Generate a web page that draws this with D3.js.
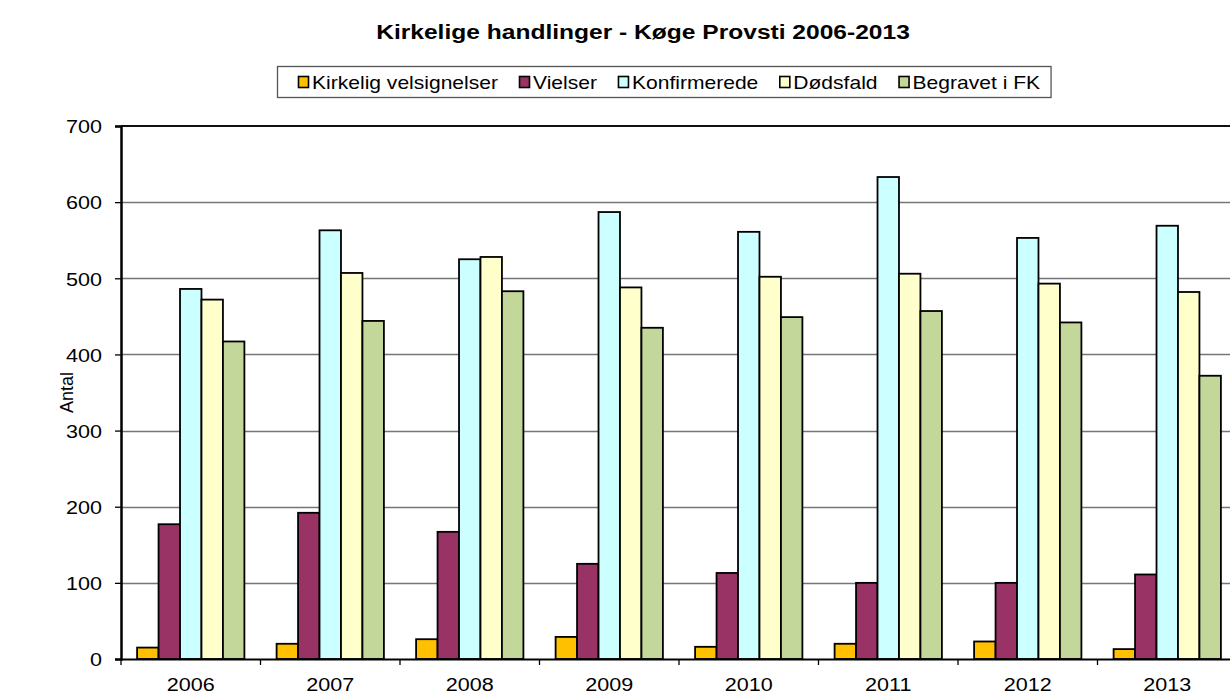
<!DOCTYPE html>
<html>
<head>
<meta charset="utf-8">
<script src="https://cdn.jsdelivr.net/npm/d3@7"></script>
<style>
  body { margin: 0; background: #fff; }
  svg { font-family: "Liberation Sans", Arial, sans-serif; }
</style>
</head>
<body>
<div id="chart"></div>
<script>
var years = ["2006", "2007", "2008", "2009", "2010", "2011", "2012", "2013"];
var seriesNames = ["Kirkelig velsignelser", "Vielser", "Konfirmerede", "Dødsfald", "Begravet i FK"];
var velsignelser = [15, 20, 26, 29, 16, 20, 23, 13];
var vielser = [177, 192, 167, 125, 113, 100, 100, 111];
var konfirmerede = [486, 563, 525, 587, 561, 633, 553, 569];
var doedsfald = [472, 507, 528, 488, 502, 506, 493, 482];
var begravet = [417, 444, 483, 435, 449, 457, 442, 372];
var yTicks = [0, 100, 200, 300, 400, 500, 600, 700];
var colors = ["#FFC000", "#993366", "#CCFFFF", "#FFFFCC", "#C4D79B"];

var allSeries = [velsignelser, vielser, konfirmerede, doedsfald, begravet];

var width = 1230, height = 695;
var plotLeft = 121, plotTop = 126, plotRight = 1237, plotBottom = 659;
var stretch = 1.17; // the reference text is drawn a bit wide

var svg = d3.select("#chart").append("svg").attr("width", width).attr("height", height);

var x = d3.scaleBand().domain(years).range([plotLeft, plotRight]).padding(0);
var x1 = d3.scaleBand().domain(d3.range(seriesNames.length))
  .range([0, x.bandwidth()]).paddingInner(0).paddingOuter(0.75);
var y = d3.scaleLinear().domain([0, 700]).range([plotBottom, plotTop]);

// gridlines
svg.append("g").selectAll("line").data(yTicks.slice(1, -1)).enter().append("line")
  .attr("x1", plotLeft).attr("x2", plotRight)
  .attr("y1", (d) => Math.round(y(d)) + 0.5).attr("y2", (d) => Math.round(y(d)) + 0.5)
  .attr("stroke", "#767676").attr("stroke-width", 1.3);

// top border of plot area
svg.append("line").attr("x1", plotLeft).attr("x2", plotRight).attr("y1", plotTop).attr("y2", plotTop)
  .attr("stroke", "#111").attr("stroke-width", 2);

// bars
var groups = svg.append("g").selectAll("g").data(years).enter().append("g")
  .attr("transform", (d) => `translate(${x(d)},0)`);
groups.selectAll("rect").data((d, i) => allSeries.map((s, k) => ({k: k, v: s[i]}))).enter().append("rect")
  .attr("x", (d) => x1(d.k))
  .attr("width", x1.bandwidth())
  .attr("y", (d) => y(d.v))
  .attr("height", (d) => plotBottom - y(d.v))
  .attr("fill", (d) => colors[d.k])
  .attr("stroke", "#000").attr("stroke-width", 1.8);

// y axis
var yAxis = svg.append("g").attr("transform", `translate(${plotLeft},0)`)
  .call(d3.axisLeft(y).tickValues(yTicks).tickSize(6).tickPadding(0).tickFormat(""));
yAxis.select(".domain").attr("stroke", "#000").attr("stroke-width", 2.5);
yAxis.selectAll(".tick line").attr("stroke", "#000").attr("stroke-width", 1.3);
yAxis.selectAll(".tick").append("text")
  .attr("transform", `translate(-19,0) scale(${stretch * 0.97},1)`)
  .attr("dy", "0.36em").attr("text-anchor", "end")
  .attr("font-size", 19).attr("fill", "#000")
  .text((d) => d);

// x axis
var xAxis = svg.append("g").attr("transform", `translate(0,${plotBottom})`)
  .call(d3.axisBottom(x).tickSize(0).tickFormat(""));
xAxis.select(".domain").attr("stroke", "#000").attr("stroke-width", 2);
xAxis.selectAll(".tick").append("text")
  .attr("transform", `translate(0,32) scale(${stretch * 0.97},1)`)
  .attr("text-anchor", "middle").attr("font-size", 19).attr("fill", "#000")
  .text((d) => d);
svg.append("g").selectAll("line").data(d3.range(years.length + 1)).enter().append("line")
  .attr("x1", (d) => plotLeft + d * x.step()).attr("x2", (d) => plotLeft + d * x.step())
  .attr("y1", plotBottom).attr("y2", plotBottom + 6)
  .attr("stroke", "#000").attr("stroke-width", 1.3);

// y axis title
svg.append("text").attr("transform", `translate(73,${(plotTop + plotBottom) / 2}) rotate(-90)`)
  .attr("text-anchor", "middle").attr("font-size", 18).text("Antal");

// chart title
svg.append("text").attr("transform", `translate(643,39) scale(${stretch},1)`).attr("text-anchor", "middle")
  .attr("font-size", 21).attr("font-weight", "bold").text("Kirkelige handlinger - Køge Provsti 2006-2013");

// legend
var legend = svg.append("g");
var box = legend.append("rect").attr("x", 277.5).attr("y", 66.5).attr("height", 31)
  .attr("fill", "#fff").attr("stroke", "#555").attr("stroke-width", 1.3);
var cursor = 298;
seriesNames.forEach(function (name, i) {
  legend.append("rect").attr("x", cursor + 0.5).attr("y", 76.5).attr("width", 10).attr("height", 11)
    .attr("fill", colors[i]).attr("stroke", "#000").attr("stroke-width", 1.6);
  var t = legend.append("text").attr("transform", `translate(${cursor + 14},89) scale(${stretch},1)`)
    .attr("font-size", 18).text(name);
  cursor += 14 + t.node().getComputedTextLength() * stretch;
  if (i < seriesNames.length - 1) cursor += 21;
});
box.attr("width", cursor + 11 - 277.5);
</script>
</body>
</html>
